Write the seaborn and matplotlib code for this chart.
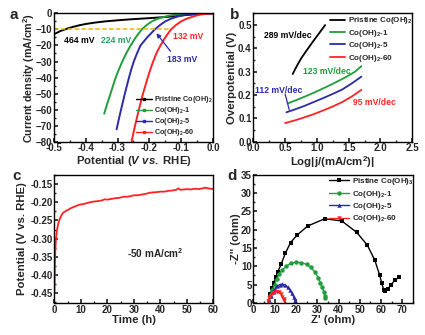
import matplotlib
matplotlib.use("Agg")
import matplotlib.pyplot as plt
from matplotlib import font_manager
from matplotlib.lines import Line2D
from matplotlib.ticker import MultipleLocator, FormatStrFormatter
import seaborn as sns
import pandas as pd

# ---------------- data ----------------
# (a) polarization curves: potential (V vs. RHE) and current density (mA/cm2)
lsv_pristine_e = [-0.50, -0.48, -0.46, -0.44, -0.42, -0.40, -0.37, -0.34, -0.30,
                  -0.26, -0.22, -0.18, -0.14, -0.10, -0.06, -0.03, 0.00]
lsv_pristine_j = [-13.0, -11.0, -9.6, -8.4, -7.4, -6.6, -5.7, -5.0, -4.3,
                  -3.7, -3.2, -2.7, -2.1, -1.3, -0.6, -0.2, 0.0]
lsv_1_e = [-0.342, -0.332, -0.322, -0.314, -0.306, -0.296, -0.285, -0.273, -0.259,
           -0.243, -0.224, -0.208, -0.192, -0.176, -0.160, -0.142, -0.125, -0.105,
           -0.085, -0.060, -0.030, 0.000]
lsv_1_j = [-62.5, -56.0, -50.0, -45.0, -40.0, -35.0, -30.0, -25.0, -20.0,
           -15.0, -10.0, -7.2, -5.0, -3.5, -2.5, -1.6, -1.0, -0.6,
           -0.3, -0.15, -0.05, 0.0]
lsv_5_e = [-0.303, -0.296, -0.289, -0.277, -0.264, -0.257, -0.249, -0.239, -0.228,
           -0.207, -0.183, -0.166, -0.150, -0.135, -0.120, -0.105, -0.090, -0.072,
           -0.055, -0.035, -0.015, 0.000]
lsv_5_j = [-72.3, -66.0, -60.0, -50.0, -40.0, -35.0, -30.0, -25.0, -20.0,
           -15.0, -10.0, -7.2, -5.0, -3.6, -2.5, -1.6, -1.0, -0.6,
           -0.3, -0.12, -0.03, 0.0]
lsv_60_e = [-0.256, -0.245, -0.233, -0.220, -0.205, -0.197, -0.188, -0.178, -0.165,
            -0.150, -0.132, -0.116, -0.100, -0.085, -0.070, -0.057, -0.045, -0.032,
            -0.020, -0.010, 0.000]
lsv_60_j = [-80.0, -70.0, -60.0, -50.0, -40.0, -35.0, -30.0, -25.0, -20.0,
            -15.0, -10.0, -7.2, -5.0, -3.5, -2.5, -1.6, -1.0, -0.55,
            -0.3, -0.1, 0.0]

# (b) Tafel plots: log|j| and overpotential (V)
tafel_pristine_x = [0.62, 0.66, 0.71, 0.76, 0.82, 0.88, 0.94, 1.00, 1.06, 1.13]
tafel_pristine_y = [0.290, 0.312, 0.337, 0.360, 0.384, 0.407, 0.430, 0.452, 0.474, 0.500]
tafel_1_x = [0.55, 0.70, 0.85, 1.00, 1.15, 1.30, 1.45, 1.60, 1.70]
tafel_1_y = [0.165, 0.181, 0.198, 0.216, 0.235, 0.255, 0.276, 0.300, 0.324]
tafel_5_x = [0.52, 0.65, 0.80, 0.95, 1.10, 1.25, 1.40, 1.55, 1.70]
tafel_5_y = [0.126, 0.138, 0.153, 0.170, 0.187, 0.205, 0.224, 0.250, 0.279]
tafel_60_x = [0.50, 0.65, 0.80, 0.95, 1.10, 1.25, 1.40, 1.55, 1.70]
tafel_60_y = [0.080, 0.091, 0.104, 0.118, 0.134, 0.151, 0.170, 0.194, 0.222]

# (c) chronopotentiometry at -50 mA/cm2
stab_t = [0.0, 0.08, 0.15, 0.22, 0.30, 0.45, 0.60, 0.80, 1.0, 1.25, 1.5, 2.0, 2.4, 2.8,
          3.4, 4.0, 4.5, 5.2, 6.0, 7.0, 8.0, 9.0, 10.0, 11.0, 12.0, 13.5, 15.0, 16.5,
          18.0, 19.0, 20.0, 21.5, 23.0, 24.5, 26.0, 27.5, 29.0, 30.0, 31.5, 33.0, 34.5,
          36.0, 37.5, 39.0, 40.0, 41.5, 43.0, 44.5, 46.0, 46.8, 47.5, 49.0, 50.0, 51.5,
          53.0, 54.5, 56.0, 57.0, 58.0, 59.0, 60.0]
stab_v = [-0.450, -0.425, -0.395, -0.362, -0.340, -0.318, -0.302, -0.288, -0.276,
          -0.266, -0.258, -0.246, -0.240, -0.234, -0.228, -0.226, -0.223, -0.221,
          -0.217, -0.214, -0.211, -0.208, -0.206, -0.205, -0.203, -0.200, -0.198,
          -0.197, -0.195, -0.192, -0.193, -0.191, -0.189, -0.188, -0.185, -0.185,
          -0.183, -0.181, -0.181, -0.179, -0.177, -0.174, -0.173, -0.172, -0.171,
          -0.171, -0.169, -0.168, -0.166, -0.162, -0.166, -0.165, -0.164, -0.165,
          -0.163, -0.164, -0.162, -0.160, -0.162, -0.163, -0.164]

# (d) Nyquist plots: Z' and -Z'' (ohm)
eis_pristine_x = [8.0, 8.8, 9.6, 10.5, 11.5, 13.0, 15.0, 17.5, 20.5, 25.5, 33.5, 41.5,
                  48.5, 53.5, 57.0, 59.3, 60.3, 61.2, 62.0, 63.0, 64.5, 66.5, 68.5]
eis_pristine_y = [2.5, 4.0, 5.5, 7.0, 8.5, 10.5, 13.5, 16.5, 18.5, 21.0, 23.0, 22.4,
                  19.3, 15.8, 11.7, 7.6, 5.3, 3.6, 3.2, 3.8, 4.8, 6.3, 7.0]
eis_1_x = [8.0, 9.0, 10.0, 11.0, 12.0, 13.5, 15.5, 17.5, 20.0, 22.5, 25.0, 27.0, 29.0,
           30.5, 31.5, 32.3, 33.0, 33.5, 33.8]
eis_1_y = [2.0, 3.6, 5.0, 6.5, 7.8, 9.0, 10.0, 10.8, 11.1, 11.0, 10.5, 9.7, 8.3,
           6.9, 5.5, 4.2, 3.0, 2.0, 1.3]
eis_5_x = [7.5, 8.3, 9.2, 10.2, 11.3, 12.5, 13.7, 15.0, 16.2, 17.3, 18.2, 18.9, 19.4, 19.7]
eis_5_y = [0.8, 2.0, 3.0, 3.9, 4.6, 5.0, 5.1, 4.9, 4.3, 3.5, 2.6, 1.7, 0.9, 0.3]
eis_60_x = [6.8, 7.4, 8.2, 9.1, 10.1, 11.1, 12.1, 13.0, 13.7, 14.2, 14.6]
eis_60_y = [0.4, 1.3, 2.1, 2.7, 3.0, 3.1, 2.9, 2.4, 1.7, 1.0, 0.4]

labels = ["Pristine Co(OH)$_2$", "Co(OH)$_2$-1", "Co(OH)$_2$-5", "Co(OH)$_2$-60"]
labels_d = ["Pistine Co(OH)$_3$", "Co(OH)$_2$-1", "Co(OH)$_2$-5", "Co(OH)$_2$-60"]
colors = ["#000000", "#1f9e3c", "#2b2ba8", "#ff2222"]
markers_d = ["s", "o", "^", "v"]

# ---------------- style ----------------
sns.set_theme(style="ticks")
names = {f.name for f in font_manager.fontManager.ttflist}
fam = "Liberation Sans Narrow" if "Liberation Sans Narrow" in names else "Liberation Sans"
plt.rcParams["font.family"] = [fam, "DejaVu Sans"]
plt.rcParams.update({
    "font.weight": "bold",
    "axes.labelweight": "bold",
    "mathtext.fontset": "custom",
    "mathtext.rm": f"{fam}:bold",
    "mathtext.bf": f"{fam}:bold",
    "mathtext.it": f"{fam}:italic:bold",
    "xtick.direction": "in",
    "ytick.direction": "in",
    "axes.linewidth": 1.0,
    "xtick.major.size": 3, "ytick.major.size": 3,
    "xtick.minor.size": 1.6, "ytick.minor.size": 1.6,
    "xtick.labelsize": 7.0, "ytick.labelsize": 7.0,
    "axes.labelsize": 8.2,
})

fig = plt.figure(figsize=(4.25, 3.35), dpi=100)
ax_a = fig.add_axes([0.127, 0.577, 0.374, 0.383])
ax_b = fig.add_axes([0.596, 0.577, 0.374, 0.383])
ax_c = fig.add_axes([0.128, 0.095, 0.374, 0.383])
ax_d = fig.add_axes([0.596, 0.096, 0.376, 0.382])


def frame(ax, ylab_x, xlab_y, letter, letter_x):
    for s in ax.spines.values():
        s.set_visible(True)
        s.set_linewidth(1.0)
        s.set_color("black")
    ax.tick_params(which="both", top=False, right=False, pad=1.2)
    for lab in ax.get_xticklabels() + ax.get_yticklabels():
        lab.set_fontweight("bold")
    ax.yaxis.set_label_coords(ylab_x, 0.5)
    ax.xaxis.set_label_coords(0.5, xlab_y)
    ax.text(letter_x, 0.99, letter, transform=ax.transAxes, fontsize=11,
            fontweight="bold", va="center", ha="left")


small = dict(fontsize=6.2, fontweight="bold", ha="center", va="center")
leg_kw = dict(frameon=False, fontsize=5.8, handletextpad=0.35,
              labelspacing=0.18, borderaxespad=0.0, borderpad=0.0)

# ---------------- (a) LSV ----------------
lsv = [(lsv_pristine_e, lsv_pristine_j), (lsv_1_e, lsv_1_j),
       (lsv_5_e, lsv_5_j), (lsv_60_e, lsv_60_j)]
for (e, j), c in zip(lsv, colors):
    sns.lineplot(x=e, y=j, ax=ax_a, color=c, lw=1.4, sort=False, estimator=None)
ax_a.plot([-0.5, -0.135], [-10, -10], ls=(0, (3, 1.5)), color="#f4b400", lw=1.1)
ax_a.set_xlim(-0.5, 0.0)
ax_a.set_ylim(-80, 0)
ax_a.xaxis.set_major_locator(MultipleLocator(0.1))
ax_a.xaxis.set_minor_locator(MultipleLocator(0.05))
ax_a.xaxis.set_major_formatter(FormatStrFormatter("%.1f"))
ax_a.yaxis.set_major_locator(MultipleLocator(10))
ax_a.yaxis.set_minor_locator(MultipleLocator(5))
ax_a.set_xlabel("Potential ($V$ $vs.$ RHE)")
ax_a.set_ylabel("Current density (mA/cm$^2$)", fontsize=7.7)
ax_a.text(-0.42, -16.8, "464 mV", color="black", **small)
ax_a.text(-0.304, -16.8, "224 mV", color="#23a060", **small)
ax_a.text(-0.078, -14.3, "132 mV", color="#ff2222", **small)
ax_a.text(-0.096, -28.9, "183 mV", color="#2b2ba8", **small)
ax_a.annotate("", xy=(-0.183, -11.0), xytext=(-0.128, -25.0),
              arrowprops=dict(arrowstyle="-|>", color="#2b2ba8", lw=0.9,
                              mutation_scale=6))
handles_a = [Line2D([], [], color=c, lw=1.0, marker="s", ms=1.6) for c in colors]
ax_a.legend(handles_a, labels, loc="lower right", frameon=False, fontsize=5.2,
            handlelength=2.2, handletextpad=0.3, labelspacing=0.02,
            borderaxespad=0.0, borderpad=0.0, bbox_to_anchor=(1.0, 0.025))
frame(ax_a, -0.107, -0.092, "a", -0.28)

# ---------------- (b) Tafel ----------------
tafel = [(tafel_pristine_x, tafel_pristine_y), (tafel_1_x, tafel_1_y),
         (tafel_5_x, tafel_5_y), (tafel_60_x, tafel_60_y)]
for (x, y), c, lab in zip(tafel, colors, labels):
    sns.lineplot(x=x, y=y, ax=ax_b, color=c, lw=1.3, sort=False, estimator=None,
                 label=lab)
ax_b.set_xlim(0, 2.5)
ax_b.set_ylim(0, 0.55)
ax_b.xaxis.set_major_locator(MultipleLocator(0.5))
ax_b.xaxis.set_minor_locator(MultipleLocator(0.25))
ax_b.xaxis.set_major_formatter(FormatStrFormatter("%.1f"))
ax_b.yaxis.set_major_locator(MultipleLocator(0.1))
ax_b.yaxis.set_minor_locator(MultipleLocator(0.05))
ax_b.yaxis.set_major_formatter(FormatStrFormatter("%.1f"))
ax_b.set_xlabel("Log|j/(mA/cm$^2$)|")
ax_b.set_ylabel("Overpotential (V)")
ax_b.text(0.55, 0.455, "289 mV/dec", color="black", **small)
ax_b.text(1.16, 0.300, "123 mV/dec", color="#1f9e3c", **small)
ax_b.text(0.40, 0.219, "112 mV/dec", color="#2b2ba8", **small)
ax_b.text(1.90, 0.167, "95 mV/dec", color="#ff2222", **small)
ax_b.plot([0.50, 0.565], [0.205, 0.137], color="#2b2ba8", lw=0.9)
ax_b.legend(loc="upper right", handlelength=1.9, bbox_to_anchor=(1.0, 0.985),
            **leg_kw)
frame(ax_b, -0.105, -0.095, "b", -0.15)

# ---------------- (c) stability ----------------
df_c = pd.DataFrame({"t": stab_t, "v": stab_v})
sns.lineplot(data=df_c, x="t", y="v", ax=ax_c, color="#ff2222", lw=1.3,
             sort=False, estimator=None)
ax_c.set_xlim(0, 60)
ax_c.set_ylim(-0.477, -0.125)
ax_c.xaxis.set_major_locator(MultipleLocator(10))
ax_c.xaxis.set_minor_locator(MultipleLocator(5))
ax_c.yaxis.set_major_locator(MultipleLocator(0.05))
ax_c.yaxis.set_minor_locator(MultipleLocator(0.025))
ax_c.yaxis.set_major_formatter(FormatStrFormatter("%.2f"))
ax_c.set_xlabel("Time (h)")
ax_c.set_ylabel("Potential (V vs. RHE)")
ax_c.text(38, -0.34, "-50 mA/cm$^2$", fontsize=7.2, fontweight="bold",
          ha="center", va="center")
frame(ax_c, -0.175, -0.095, "c", -0.265)

# ---------------- (d) Nyquist ----------------
eis = [(eis_pristine_x, eis_pristine_y), (eis_1_x, eis_1_y),
       (eis_5_x, eis_5_y), (eis_60_x, eis_60_y)]
for (x, y), c, m, lab in zip(eis, colors, markers_d, labels_d):
    sns.lineplot(x=x, y=y, ax=ax_d, color=c, lw=1.0, sort=False, estimator=None,
                 marker=m, markersize=3.2, markeredgewidth=0, label=lab)
ax_d.set_xlim(0, 75)
ax_d.set_ylim(0, 35)
ax_d.xaxis.set_major_locator(MultipleLocator(10))
ax_d.xaxis.set_minor_locator(MultipleLocator(5))
ax_d.yaxis.set_major_locator(MultipleLocator(5))
ax_d.yaxis.set_minor_locator(MultipleLocator(2.5))
ax_d.set_xlabel("Z' (ohm)")
ax_d.set_ylabel("-Z'' (ohm)")
ax_d.legend(loc="upper right", handlelength=2.4, bbox_to_anchor=(1.0, 0.99),
            **leg_kw)
frame(ax_d, -0.075, -0.095, "d", -0.16)

fig.savefig("out.png", dpi=100)
